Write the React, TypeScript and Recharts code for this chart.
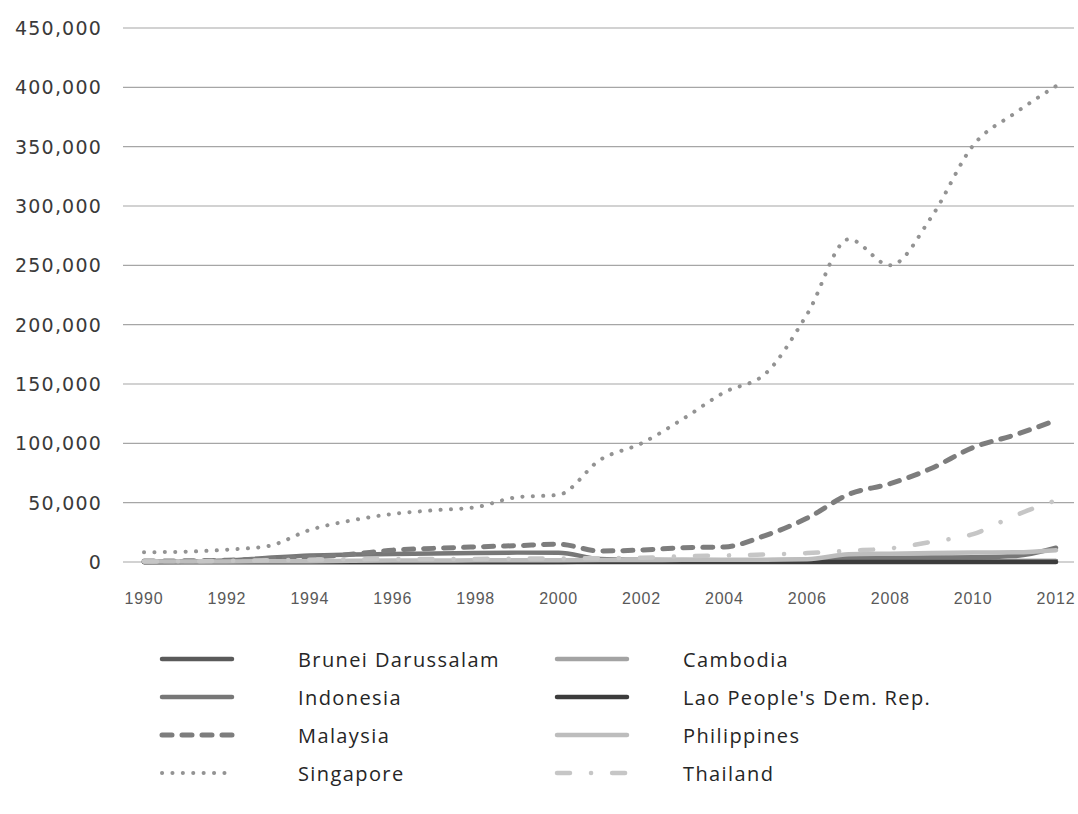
import React from "react";
import { LineChart, Line, XAxis, YAxis, CartesianGrid } from "recharts";

// Outward FDI stock, ASEAN members, 1990–2012 (US$ million)
const years = [
  1990, 1991, 1992, 1993, 1994, 1995, 1996, 1997, 1998, 1999, 2000, 2001,
  2002, 2003, 2004, 2005, 2006, 2007, 2008, 2009, 2010, 2011, 2012,
];

const brunei = [0, 0, 0, 0, 0, 0, 0, 0, 0, 0, 0, 300, 350, 400, 450, 500, 550, 600, 650, 700, 700, 750, 800];
const cambodia = [0, 0, 0, 0, 0, 0, 0, 0, 0, 0, 200, 220, 230, 250, 280, 300, 320, 340, 370, 390, 420, 440, 460];
const indonesia = [100, 300, 1200, 3500, 5500, 6300, 6700, 7200, 7600, 7900, 7900, 2500, 1800, 1600, 1500, 1500, 1800, 3500, 3600, 3700, 4000, 5000, 12000];
const lao = [0, 0, 0, 0, 0, 0, 0, 0, 0, 0, 0, 0, 0, 0, 0, 0, 20, 30, 40, 50, 60, 70, 80];
const malaysia = [750, 1000, 1500, 2500, 4000, 6500, 10000, 11500, 12700, 13800, 15000, 9300, 10100, 12000, 12700, 22500, 37000, 57000, 66000, 79000, 96500, 107000, 119500];
const philippines = [400, 450, 500, 600, 700, 1000, 1200, 1300, 1400, 1500, 1500, 1600, 1700, 1800, 1900, 2000, 2300, 6500, 7000, 7500, 8000, 8200, 10000];
const singapore = [8200, 8700, 10400, 13500, 27000, 35000, 40500, 43600, 46200, 54600, 56600, 86000, 100000, 120500, 143000, 159000, 209000, 272000, 250000, 291000, 351000, 378000, 401000];
const thailand = [400, 600, 900, 1500, 2000, 2300, 2600, 2500, 2600, 2800, 3000, 3200, 3600, 4800, 5500, 6300, 7500, 9500, 11500, 17000, 23500, 39000, 52000];

const yTicks = [0, 50000, 100000, 150000, 200000, 250000, 300000, 350000, 400000, 450000];
const xTicks = [1990, 1992, 1994, 1996, 1998, 2000, 2002, 2004, 2006, 2008, 2010, 2012];

const seriesValues: Record<string, number[]> = {
  brunei, cambodia, indonesia, lao, malaysia, philippines, singapore, thailand,
};

type SeriesStyle = {
  key: string;
  name: string;
  color: string;
  width: number;
  dash?: string;
};

const seriesStyles: SeriesStyle[] = [
  { key: "brunei", name: "Brunei Darussalam", color: "#5a5a5a", width: 4.5 },
  { key: "cambodia", name: "Cambodia", color: "#a3a3a3", width: 4.5 },
  { key: "indonesia", name: "Indonesia", color: "#777777", width: 4.5 },
  { key: "lao", name: "Lao People's Dem. Rep.", color: "#3c3c3c", width: 4.5 },
  { key: "malaysia", name: "Malaysia", color: "#7d7d7d", width: 5, dash: "10 10" },
  { key: "philippines", name: "Philippines", color: "#bdbdbd", width: 4.5 },
  { key: "singapore", name: "Singapore", color: "#939393", width: 4, dash: "0.1 10.3" },
  { key: "thailand", name: "Thailand", color: "#c6c6c6", width: 4.5, dash: "13 21 0.1 21" },
];

const data = years.map((year, i) => {
  const row: Record<string, number> = { year };
  for (const s of seriesStyles) row[s.key] = seriesValues[s.key][i];
  return row;
});

const fmt = (v: number) => v.toLocaleString("en-US");

const YTick = (props: any) => {
  const { x, y, payload } = props;
  return (
    <text
      x={x}
      y={y}
      textAnchor="end"
      dominantBaseline="central"
      fontFamily="'DejaVu Sans', sans-serif"
      fontSize={19}
      letterSpacing={1.2}
      fill="#3a3a3a"
    >
      {fmt(payload.value)}
    </text>
  );
};

const XTick = (props: any) => {
  const { x, y, payload } = props;
  return (
    <text
      x={x}
      y={y}
      textAnchor="middle"
      dominantBaseline="hanging"
      fontFamily="'Liberation Sans', Arial, sans-serif"
      fontSize={16}
      letterSpacing={0.8}
      fill="#595959"
    >
      {payload.value}
    </text>
  );
};

function LegendBlock() {
  const rowTop = 659;
  const rowGap = 38;
  const cols = [
    { sx: 160, tx: 298 },
    { sx: 555, tx: 683 },
  ];
  return (
    <svg
      width={1078}
      height={814}
      style={{ position: "absolute", left: 0, top: 0, pointerEvents: "none" }}
    >
      {seriesStyles.map((s, i) => {
        const col = cols[i % 2];
        const cy = rowTop + Math.floor(i / 2) * rowGap;
        return (
          <g key={s.key}>
            <line
              x1={col.sx + 2}
              x2={col.sx + 72}
              y1={cy}
              y2={cy}
              stroke={s.color}
              strokeWidth={s.width}
              strokeDasharray={s.dash}
              strokeLinecap="round"
            />
            <text
              x={col.tx}
              y={cy}
              dominantBaseline="central"
              fontFamily="'Open Sans', sans-serif"
              fontSize={20}
              letterSpacing={1.4}
              fill="#262626"
            >
              {s.name}
            </text>
          </g>
        );
      })}
    </svg>
  );
}

export default function App() {
  return (
    <div
      style={{
        position: "absolute",
        left: 0,
        top: 0,
        width: 1078,
        height: 814,
        background: "#ffffff",
      }}
    >
      <LineChart
        width={1078}
        height={814}
        data={data}
        margin={{ top: 28, right: 4, bottom: 192, left: 0 }}
      >
        <CartesianGrid vertical={false} stroke="#a6a6a6" strokeWidth={1.2} />
        <XAxis
          dataKey="year"
          type="number"
          domain={[1990, 2012]}
          ticks={xTicks}
          height={60}
          padding={{ left: 21, right: 18 }}
          axisLine={false}
          tickLine={false}
          tickSize={0}
          tickMargin={31}
          tick={<XTick />}
          interval={0}
        />
        <YAxis
          type="number"
          domain={[0, 450000]}
          ticks={yTicks}
          width={123}
          axisLine={false}
          tickLine={false}
          tickSize={0}
          tickMargin={21}
          tick={<YTick />}
          interval={0}
        />
        {seriesStyles.map((s) => (
          <Line
            key={s.key}
            type="monotone"
            dataKey={s.key}
            name={s.name}
            stroke={s.color}
            strokeWidth={s.width}
            strokeDasharray={s.dash}
            strokeLinecap="round"
            strokeLinejoin="round"
            dot={false}
            activeDot={false}
            isAnimationActive={false}
          />
        ))}
      </LineChart>
      <LegendBlock />
    </div>
  );
}
